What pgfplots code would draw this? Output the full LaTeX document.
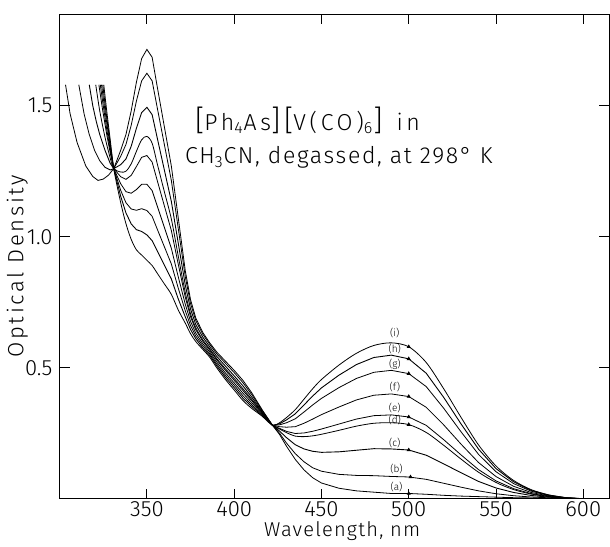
\documentclass[border=0pt]{standalone}
\usepackage{fontspec}
\setmainfont{Fira Sans}[UprightFont={* Light}]
\usepackage{pgfplots}
\pgfplotsset{compat=1.18}
\newcommand{\bk}{\fontsize{14.5}{14.5}\selectfont}

\begin{document}
\begin{tikzpicture}
\begin{axis}[
    scale only axis,
    width=274pt, height=241.5pt,
    xmin=300, xmax=615, ymin=0, ymax=1.85,
    xtick={350,400,...,600},
    ytick={0.5,1.0,1.5},
    ticklabel style={font=\fontsize{11}{13}\selectfont},
    yticklabel style={/pgf/number format/.cd, fixed, fixed zerofill, precision=1},
    xticklabel style={yshift=2pt},
    /pgf/number format/assume math mode=true,
    tick align=inside,
    major tick length=5pt,
    axis line style={line width=0.5pt},
    tick style={line width=0.5pt, black},
    xlabel={\addfontfeature{LetterSpace=6}Wavelength, nm},
    ylabel={\addfontfeature{LetterSpace=12}Optical Density},
    x label style={at={(axis description cs:0.514,-0.066)}, anchor=center},
    y label style={at={(axis description cs:-0.077,0.48)}, anchor=center, font=\fontsize{11}{13}\selectfont},
    cycle list={{black, solid, line width=0.45pt, smooth, mark=none}},
]

% (a)
\addplot coordinates {
(303.4,1.58)(306,1.47)(310,1.36)(315,1.27)(319,1.23)(322,1.215)(325,1.22)(328,1.235)(331,1.26)(335,1.33)(338,1.39)(341,1.48)(344,1.59)(347,1.68)(350,1.715)(353,1.685)(356,1.57)(360,1.42)(364,1.27)(368,1.07)(372,0.87)(375,0.76)(378,0.69)(382,0.635)(386,0.595)(390,0.56)(395,0.525)(400,0.49)(405,0.452)(410,0.405)(416,0.34)(422,0.28)(426,0.245)(430,0.20)(435,0.15)(440,0.11)(445,0.08)(450,0.06)(460,0.04)(470,0.03)(480,0.025)(490,0.02)(500,0.02)(510,0.017)(520,0.013)(530,0.01)(540,0.008)(550,0.006)(560,0.004)(570,0.003)(580,0.002)(590,0.001)(600,0)
};
% (b)
\addplot coordinates {
(311,1.58)(314,1.47)(317,1.39)(320,1.33)(323,1.29)(326,1.265)(329,1.255)(331,1.26)(335,1.307)(338,1.352)(341,1.425)(344,1.518)(347,1.595)(350,1.624)(353,1.595)(356,1.490)(360,1.352)(364,1.215)(368,1.030)(372,0.847)(375,0.745)(378,0.680)(382,0.628)(386,0.589)(390,0.553)(395,0.517)(400,0.4815)(405,0.443)(410,0.398)(416,0.337)(422,0.28)(426,0.250)(430,0.212)(435,0.172)(440,0.141)(445,0.118)(450,0.105)(460,0.093)(470,0.089)(480,0.088)(490,0.085)(500,0.083)(510,0.074)(520,0.059)(530,0.044)(540,0.030)(550,0.019)(560,0.0115)(570,0.0066)(580,0.0035)(590,0.0013)(600,0)
};
% (c)
\addplot coordinates {
(317,1.58)(319,1.50)(321,1.44)(323,1.39)(326,1.33)(329,1.28)(331,1.26)(335,1.275)(338,1.297)(341,1.345)(344,1.414)(347,1.474)(350,1.494)(353,1.466)(356,1.375)(360,1.255)(364,1.135)(368,0.974)(372,0.815)(375,0.724)(378,0.665)(382,0.617)(386,0.580)(390,0.5435)(395,0.506)(400,0.469)(405,0.431)(410,0.3885)(416,0.333)(422,0.28)(426,0.258)(430,0.233)(435,0.206)(440,0.190)(445,0.181)(450,0.177)(460,0.179)(470,0.185)(480,0.191)(490,0.190)(500,0.186)(510,0.166)(520,0.133)(530,0.099)(540,0.066)(550,0.041)(560,0.024)(570,0.0125)(580,0.006)(590,0.002)(600,0)
};
% (d)
\addplot coordinates {
(320.7,1.58)(323,1.48)(326,1.38)(329,1.30)(331,1.26)(335,1.247)(338,1.250)(341,1.278)(344,1.326)(347,1.370)(350,1.383)(353,1.357)(356,1.277)(360,1.172)(364,1.068)(368,0.925)(372,0.787)(375,0.706)(378,0.653)(382,0.607)(386,0.572)(390,0.535)(395,0.496)(400,0.459)(405,0.420)(410,0.380)(416,0.330)(422,0.28)(426,0.266)(430,0.252)(435,0.239)(440,0.237)(445,0.240)(450,0.246)(460,0.261)(470,0.277)(480,0.288)(490,0.290)(500,0.283)(510,0.253)(520,0.204)(530,0.151)(540,0.101)(550,0.062)(560,0.035)(570,0.018)(580,0.008)(590,0.0024)(600,0)
};
% (e)
\addplot coordinates {
(322.5,1.58)(324.5,1.49)(327,1.39)(329,1.32)(331,1.26)(335,1.229)(338,1.219)(341,1.234)(344,1.268)(347,1.303)(350,1.310)(353,1.285)(356,1.213)(360,1.118)(364,1.024)(368,0.894)(372,0.769)(375,0.695)(378,0.645)(382,0.601)(386,0.567)(390,0.530)(395,0.490)(400,0.452)(405,0.413)(410,0.375)(416,0.327)(422,0.28)(426,0.2685)(430,0.257)(435,0.249)(440,0.251)(445,0.2575)(450,0.266)(460,0.285)(470,0.304)(480,0.317)(490,0.320)(500,0.312)(510,0.280)(520,0.2255)(530,0.167)(540,0.111)(550,0.068)(560,0.0385)(570,0.0197)(580,0.0088)(590,0.0026)(600,0)
};
% (f)
\addplot coordinates {
(323.3,1.58)(325,1.50)(327,1.41)(329,1.33)(331,1.26)(335,1.202)(338,1.172)(341,1.166)(344,1.180)(347,1.200)(350,1.200)(353,1.176)(356,1.116)(360,1.036)(364,0.956)(368,0.846)(372,0.742)(375,0.677)(378,0.632)(382,0.592)(386,0.560)(390,0.522)(395,0.480)(400,0.442)(405,0.403)(410,0.367)(416,0.324)(422,0.28)(426,0.275)(430,0.273)(435,0.275)(440,0.288)(445,0.304)(450,0.321)(460,0.350)(470,0.377)(480,0.395)(490,0.400)(500,0.390)(510,0.349)(520,0.282)(530,0.208)(540,0.138)(550,0.0845)(560,0.0476)(570,0.0241)(580,0.0106)(590,0.003)(600,0)
};
% (g)
\addplot coordinates {
(324,1.58)(326,1.48)(328,1.39)(329.5,1.32)(331,1.26)(335,1.177)(338,1.130)(341,1.106)(344,1.101)(347,1.107)(350,1.100)(353,1.078)(356,1.028)(360,0.962)(364,0.896)(368,0.803)(372,0.717)(375,0.661)(378,0.621)(382,0.584)(386,0.553)(390,0.514)(395,0.4715)(400,0.433)(405,0.393)(410,0.359)(416,0.321)(422,0.28)(426,0.282)(430,0.290)(435,0.305)(440,0.331)(445,0.358)(450,0.383)(460,0.424)(470,0.459)(480,0.4825)(490,0.490)(500,0.4775)(510,0.428)(520,0.3455)(530,0.255)(540,0.169)(550,0.103)(560,0.058)(570,0.029)(580,0.0126)(590,0.0035)(600,0)
};
% (h)
\addplot coordinates {
(324.7,1.58)(326.5,1.48)(328.5,1.38)(331,1.26)(335,1.154)(338,1.091)(341,1.049)(344,1.027)(347,1.020)(350,1.007)(353,0.985)(356,0.945)(360,0.892)(364,0.839)(368,0.762)(372,0.694)(375,0.646)(378,0.611)(382,0.576)(386,0.547)(390,0.507)(395,0.463)(400,0.424)(405,0.384)(410,0.352)(416,0.318)(422,0.28)(426,0.286)(430,0.301)(435,0.324)(440,0.358)(445,0.392)(450,0.423)(460,0.4715)(470,0.512)(480,0.539)(490,0.548)(500,0.534)(510,0.479)(520,0.387)(530,0.285)(540,0.189)(550,0.115)(560,0.065)(570,0.032)(580,0.014)(590,0.004)(600,0)
};
% (i)
\addplot coordinates {
(325.3,1.58)(327,1.48)(329,1.37)(331,1.26)(335,1.13)(338,1.05)(341,0.99)(344,0.95)(347,0.93)(350,0.91)(353,0.89)(356,0.86)(360,0.82)(364,0.78)(368,0.72)(372,0.67)(375,0.63)(378,0.60)(382,0.57)(386,0.54)(390,0.50)(395,0.455)(400,0.415)(405,0.375)(410,0.345)(416,0.315)(422,0.28)(426,0.29)(430,0.31)(435,0.34)(440,0.38)(445,0.42)(450,0.455)(460,0.51)(470,0.555)(480,0.585)(490,0.595)(500,0.58)(510,0.52)(520,0.42)(530,0.31)(540,0.205)(550,0.125)(560,0.07)(570,0.035)(580,0.015)(590,0.004)(600,0)
};

% small markers at 500 nm on each curve
\addplot[only marks, mark=triangle*, mark size=0.8pt, black] coordinates {
(500,0.02)(501,0.083)(500,0.186)(500,0.283)(500,0.312)(500,0.390)(500,0.4775)(500,0.534)(500,0.58)
};

\node[anchor=west, font=\fontsize{11.5}{13}\selectfont\addfontfeature{LetterSpace=16}] at (axis cs:373.6,1.444)
  {{\bk[}Ph\textsubscript{4}As{\bk]}\,{\bk[}V(CO)\textsubscript{6}{\bk]}\ \,in};
\node[anchor=west, font=\fontsize{11.5}{13}\selectfont\addfontfeature{LetterSpace=7}] at (axis cs:367.8,1.303)
  {CH\textsubscript{3}CN, degassed, at 298° K};

\begin{scope}[every node/.style={font=\fontsize{5}{6}\selectfont, inner sep=0pt}]
\node at (axis cs:492,0.632) {(i)};
\node at (axis cs:492,0.572) {(h)};
\node at (axis cs:492,0.512) {(g)};
\node at (axis cs:492,0.425) {(f)};
\node at (axis cs:492,0.345) {(e)};
\node at (axis cs:492,0.300) {(d)};
\node at (axis cs:492,0.212) {(c)};
\node at (axis cs:493,0.115) {(b)};
\node at (axis cs:493,0.046) {(a)};
\end{scope}
\end{axis}
\path ([yshift=7pt]current axis.north west);
\end{tikzpicture}
\end{document}
